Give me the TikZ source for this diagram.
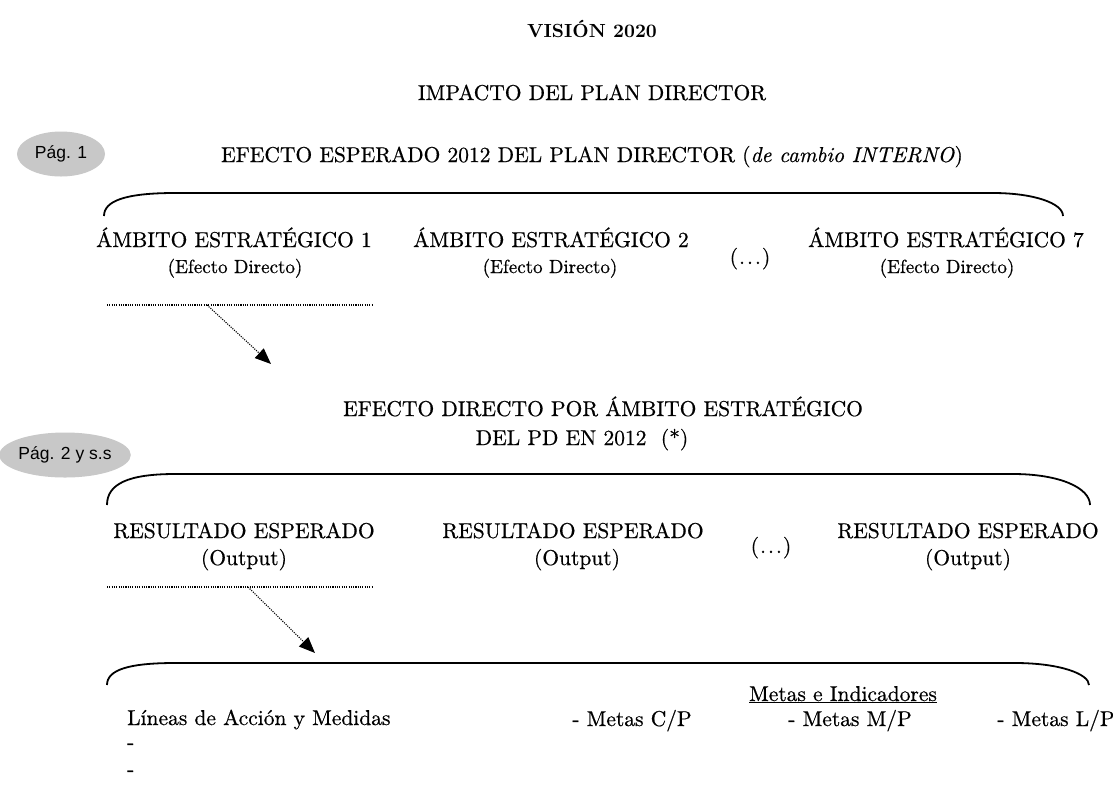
\documentclass[tikz,border=0pt]{standalone}
\usepackage{fontspec}
\setmainfont{lmroman10-regular.otf}[BoldFont=lmroman10-bold.otf,ItalicFont=lmroman10-italic.otf,UprightFeatures={FakeBold=0.6},ItalicFeatures={FakeBold=0.6}]
\newfontfamily\pagfont{Liberation Sans}
\usetikzlibrary{arrows.meta,shapes.geometric}
\definecolor{paggray}{RGB}{200,200,200}
\newcommand{\mydots}{(\kern1pt.\kern2pt.\kern2pt.\kern1pt)}
\tikzset{
  txt/.style={inner sep=0pt, anchor=base, font=\fontsize{21.5}{26}\selectfont},
  subtxt/.style={inner sep=0pt, anchor=base, font=\fontsize{19}{23}\selectfont},
  pagshape/.style={ellipse, fill=paggray, inner sep=0pt, font=\pagfont\fontsize{17.5}{20}\selectfont},
  bracepath/.style={line width=1.8pt},
  dotline/.style={line width=1.1pt, dash pattern=on 1.1pt off 1.2pt},
  dotarrow/.style={dotline, -{Triangle[length=16pt,width=13pt]}},
}
\begin{document}
\begin{tikzpicture}[x=1pt,y=-1pt]
\useasboundingbox (0,0) rectangle (1113,796);
\fill[white] (0,0) rectangle (1113,796);

% titles
\node[txt, font=\bfseries\fontsize{19}{23}\selectfont] (vision) at (592,37) {VISIÓN 2020};
\node[txt] (impacto) at (592,100) {IMPACTO DEL PLAN DIRECTOR};
\node[pagshape, minimum width=88pt, minimum height=45pt] (pag1) at (61,154) {Pág. 1};
\node[txt] (efesp) at (592,162) {EFECTO ESPERADO 2012 DEL PLAN DIRECTOR (\textit{de cambio INTERNO})};

% brace 1
\coordinate (b1l) at (104,216);
\coordinate (b1r) at (1063,216);
\draw[bracepath] (b1l) .. controls (104,201) and (125,193) .. (175,193) -- (993,193) .. controls (1033,193) and (1063,203) .. (b1r);

\node[txt] (amb1) at (234,247) {ÁMBITO ESTRATÉGICO 1};
\node[subtxt] (amb1s) at (235,273) {(Efecto Directo)};
\node[txt] (amb2) at (551,247) {ÁMBITO ESTRATÉGICO 2};
\node[subtxt] (amb2s) at (550,273) {(Efecto Directo)};
\node[txt] (dots1) at (750,264) {\mydots};
\node[txt] (amb7) at (946,247) {ÁMBITO ESTRATÉGICO 7};
\node[subtxt] (amb7s) at (947,273) {(Efecto Directo)};

% dotted line and arrow 1
\coordinate (d1l) at (107,305);
\coordinate (d1r) at (373,305);
\coordinate (a1s) at (207,305);
\coordinate (a1e) at (271,364);
\draw[dotline] (d1l) -- (d1r);
\draw[dotarrow] (a1s) -- (a1e);

% second title
\node[txt] (efdir) at (603,416) {EFECTO DIRECTO POR ÁMBITO ESTRATÉGICO};
\node[txt] (delpd) at (582,445) {DEL PD EN 2012~~(*)};
\node[pagshape, minimum width=112pt, minimum height=45pt] (pag2) at (65,455) {Pág. 2 y s.s};

% brace 2
\coordinate (b2l) at (107,505);
\coordinate (b2r) at (1090,505);
\draw[bracepath] (b2l) .. controls (107,484) and (128,474) .. (175,474) -- (1013,474) .. controls (1060,474) and (1090,488) .. (b2r);

\node[txt] (res1) at (244,538) {RESULTADO ESPERADO};
\node[txt] (res1s) at (244,565) {(Output)};
\node[txt] (res2) at (573,538) {RESULTADO ESPERADO};
\node[txt] (res2s) at (577,565) {(Output)};
\node[txt] (dots2) at (771,553) {\mydots};
\node[txt] (res3) at (968,538) {RESULTADO ESPERADO};
\node[txt] (res3s) at (968,565) {(Output)};

% dotted line and arrow 2
\coordinate (d2l) at (107,587);
\coordinate (d2r) at (373,587);
\coordinate (a2s) at (248,587);
\coordinate (a2e) at (315,653);
\draw[dotline] (d2l) -- (d2r);
\draw[dotarrow] (a2s) -- (a2e);

% brace 3
\coordinate (b3l) at (107,685);
\coordinate (b3r) at (1089,685);
\draw[bracepath] (b3l) .. controls (107,670) and (128,663) .. (175,663) -- (1015,663) .. controls (1060,663) and (1089,674) .. (b3r);

\node[txt, anchor=base west] (lineas) at (127,725) {Líneas de Acción y Medidas};
\node[txt, anchor=base west] (dash1) at (127,749) {-};
\node[txt, anchor=base west] (dash2) at (127,776) {-};
\node[txt] (metasci) at (843,701) {\underline{Metas e Indicadores}};
\node[txt] (metascp) at (632,726) {- Metas C/P};
\node[txt] (metasmp) at (850,726) {- Metas M/P};
\node[txt] (metaslp) at (1056,726) {- Metas L/P};
\end{tikzpicture}
\end{document}
